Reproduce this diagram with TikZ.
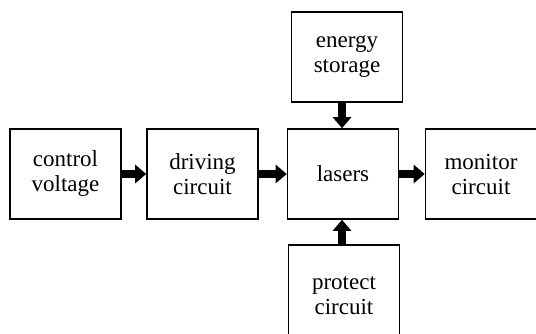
\documentclass[tikz,border=0pt]{standalone}
\usepackage{fontspec}
\setmainfont{Liberation Serif}
\usetikzlibrary{arrows.meta}
\begin{document}
\begin{tikzpicture}[x=1pt,y=-1pt,
  blk/.style={draw,line width=1.6pt,minimum width=111pt,minimum height=90pt,inner sep=0pt,
    align=center,font=\fontsize{23}{25}\selectfont},
  fat/.style={line width=8pt,-{Triangle[length=11pt,width=18pt]},shorten >=0pt}]
\useasboundingbox (0,0) rectangle (536,334);
\clip (0,0) rectangle (536,334);
\node[blk] (cv) at (65.5,174) {control\\voltage};
\node[blk] (dc) at (202.5,174) {driving\\circuit};
\node[blk] (la) at (343,174) {lasers};
\node[blk] (mc) at (481,174) {monitor\\circuit};
\node[blk] (es) at (347,57) {energy\\storage};
\node[blk,minimum height=100pt] (pc) at (344,295) {};
\node[font=\fontsize{23}{25}\selectfont,align=center] (pct) at (344,296) {protect\\circuit};
\draw[fat] (cv.east) -- (dc.west);
\draw[fat] (dc.east) -- (la.west);
\draw[fat] (la.east) -- (mc.west);
\draw[fat] (es.south -| 342,0) -- (la.north -| 342,0);
\draw[fat] (pc.north -| 342,0) -- (la.south -| 342,0);
\end{tikzpicture}
\end{document}
